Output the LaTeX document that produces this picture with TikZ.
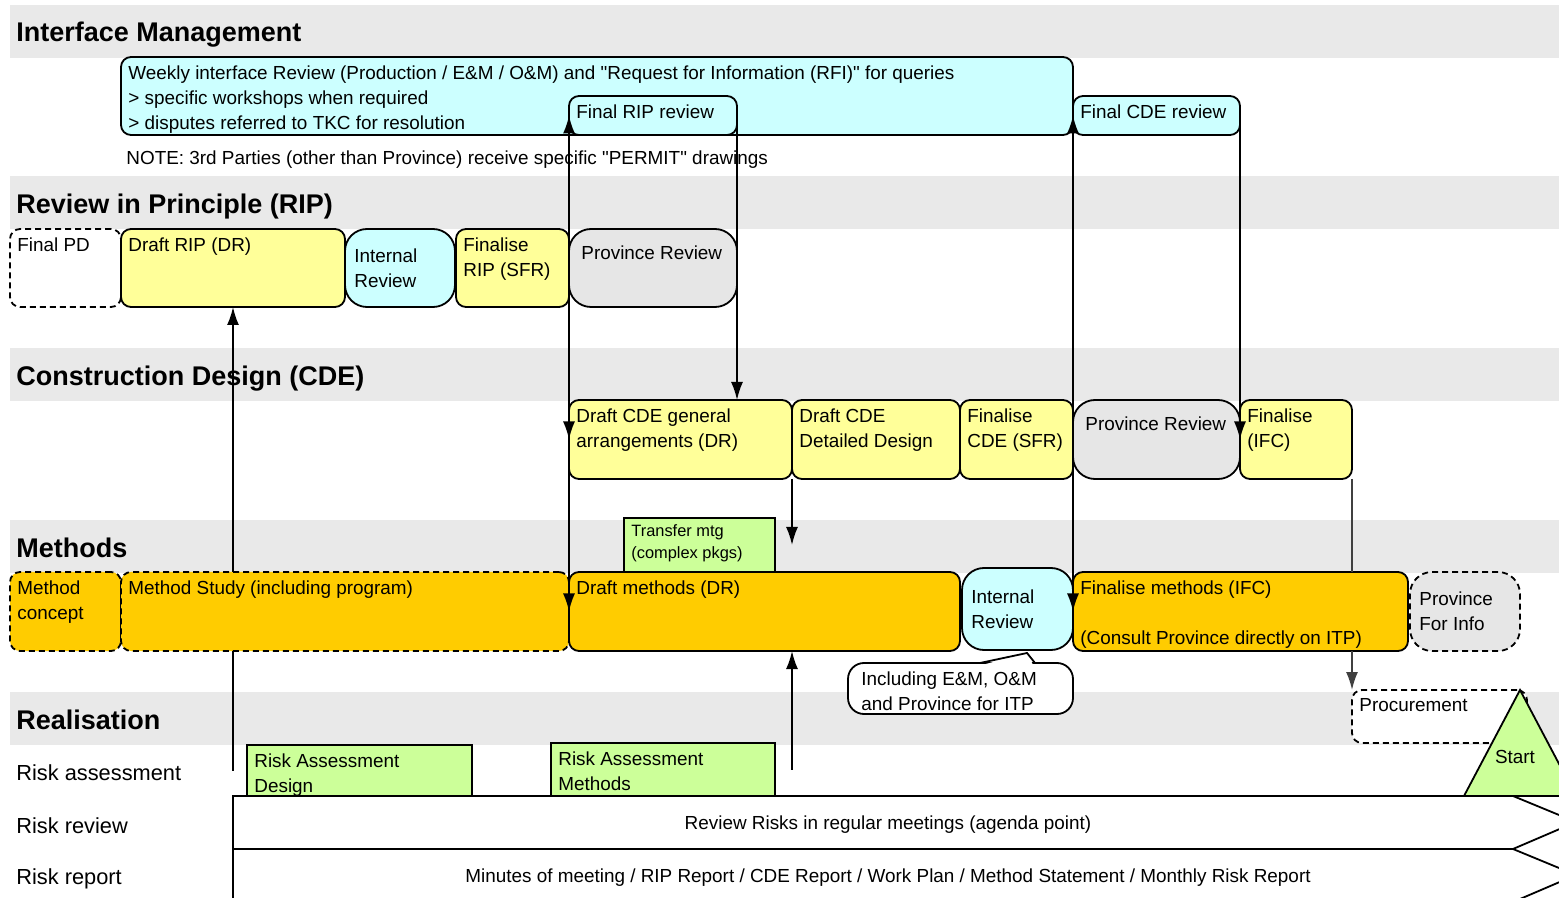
\documentclass[tikz,border=0pt]{standalone}
\usepackage{fontspec}
\setmainfont{Liberation Sans}
\usetikzlibrary{arrows.meta,positioning}

\definecolor{bandgray}{HTML}{E9E9E9}
\definecolor{revgray}{HTML}{E6E6E6}
\definecolor{lcyan}{HTML}{CCFFFF}
\definecolor{lyellow}{HTML}{FFFF99}
\definecolor{morange}{HTML}{FFCC00}
\definecolor{lgreen}{HTML}{CCFF99}
\definecolor{darkline}{HTML}{404040}

\newcommand{\bodysize}{\fontsize{9.45}{12.5}\selectfont}
\newcommand{\headsize}{\fontsize{13.5}{15}\bfseries\selectfont}
\newcommand{\smallsize}{\fontsize{8.2}{11}\selectfont}
\newcommand{\rowsize}{\fontsize{10.9}{13}\selectfont}

\tikzset{
    head/.style={anchor=base west, inner sep=0pt, font=\headsize},
    txt/.style={font=\bodysize, align=left, inner xsep=3.5pt, inner ysep=4pt},
    sz/.style 2 args={minimum width=#1*0.5pt, minimum height=#2*0.5pt},
    box/.style={draw, line width=0.9pt, rounded corners=5pt, anchor=north west,
        inner sep=0pt, outer sep=0pt},
    rev/.style={box, rounded corners=11pt},
    flat/.style={box, rounded corners=0pt, fill=lgreen},
    dashbox/.style={dash pattern=on 3pt off 2pt},
    tl/.style={label={[txt, anchor=north west]north west:#1}},
    pl/.style={label={[txt, anchor=north west, xshift=2.5pt, yshift=-4pt]north west:#1}},
    cl/.style={label={[txt, anchor=west, xshift=1pt]west:#1}},
    ln/.style={line width=0.9pt},
    arr/.style={line width=0.9pt, -{Latex[length=9pt, width=6pt]}}
}

\begin{document}
\begin{tikzpicture}[x=0.5pt, y=-0.5pt]
    \useasboundingbox (0,0) rectangle (1559,898);
    \clip (0,0) rectangle (1559,898);

    % lanes
    \foreach \y in {5,176,348,520,692}
        \fill[bandgray] (10,\y) rectangle (1559,\y+53);
    \node[head] (himan) at (16,42) {Interface Management};
    \node[head] (hrip) at (16,214) {Review in Principle (RIP)};
    \node[head] (hcde) at (16,386) {Construction Design (CDE)};
    \node[head] (hmeth) at (16,558) {Methods};
    \node[head] (hreal) at (16,729) {Realisation};

    % interface management
    \node[box, fill=lcyan, sz={952}{78}, tl={Weekly interface Review (Production / E\&M / O\&M) and \textquotedbl Request for Information (RFI)\textquotedbl{} for queries\\> specific workshops when required\\> disputes referred to TKC for resolution}] (weekly) at (121,57) {};
    \node[box, fill=lcyan, sz={168}{39}, tl={Final RIP review}] (frip) at (569,96) {};
    \node[box, fill=lcyan, sz={167}{39}, tl={Final CDE review}] (fcde) at (1073,96) {};
    \node[font=\bodysize, anchor=west, inner sep=0pt] (note) at (126,160)
        {NOTE: 3rd Parties (other than Province) receive specific \textquotedbl PERMIT\textquotedbl{} drawings};

    % RIP
    \node[box, dashbox, fill=white, sz={111}{78}, tl={Final PD}] (fpd) at (10,229) {};
    \node[box, fill=lyellow, sz={224}{78}, tl={Draft RIP (DR)}] (drip) at (121,229) {};
    \node[rev, fill=lcyan, sz={110}{78}, cl={Internal\\Review}] (rint) at (345,229) {};
    \node[box, fill=lyellow, sz={113}{78}, tl={Finalise\\RIP (SFR)}] (rsfr) at (456,229) {};
    \node[rev, fill=revgray, sz={168}{78}, pl={Province Review}] (rprov) at (569,229) {};

    % CDE
    \node[box, fill=lyellow, sz={223}{79}, tl={Draft CDE general\\arrangements (DR)}] (dcga) at (569,400) {};
    \node[box, fill=lyellow, sz={168}{79}, tl={Draft CDE\\Detailed Design}] (cdet) at (792,400) {};
    \node[box, fill=lyellow, sz={113}{79}, tl={Finalise\\CDE (SFR)}] (csfr) at (960,400) {};
    \node[rev, fill=revgray, sz={167}{79}, pl={Province Review}] (cprov) at (1073,400) {};
    \node[box, fill=lyellow, sz={112}{79}, tl={Finalise\\(IFC)}] (ifc) at (1240,400) {};

    % methods
    \node[flat, sz={151}{54}, label={[txt, font=\smallsize, anchor=north west, inner ysep=3pt]north west:Transfer mtg\\(complex pkgs)}] (tmtg) at (624,518) {};
    \node[box, dashbox, fill=morange, sz={111}{79}, tl={Method\\concept}] (mcon) at (10,572) {};
    \node[box, dashbox, fill=morange, sz={448}{79}, tl={Method Study (including program)}] (mstudy) at (121,572) {};
    \node[box, fill=morange, sz={391}{79}, tl={Draft methods (DR)}] (dmeth) at (569,572) {};
    \node[rev, fill=lcyan, sz={111}{82}, cl={Internal\\Review}] (mint) at (962,568) {};
    \node[box, fill=morange, sz={335}{79}, tl={Finalise methods (IFC)\\[12.5pt](Consult Province directly on ITP)}] (fmeth) at (1073,572) {};
    \node[rev, dashbox, fill=revgray, sz={110}{79}, cl={Province\\For Info}] (pinfo) at (1410,572) {};

    % callout
    \node[box, fill=white, rounded corners=8pt, sz={225}{51}, label={[txt, anchor=north west, xshift=3pt]north west:Including E\&M, O\&M\\and Province for ITP}] (callout) at (848,663) {};
    \fill[white] (982,665) -- (1027,653) -- (1033,665) -- cycle;
    \draw[ln] (980,663) -- (1027,653) -- (1035,663);

    % realisation
    \node[box, dashbox, fill=white, sz={175}{53}, tl={Procurement}] (proc) at (1352,690) {};
    \draw[ln, fill=white] (233,849) -- (1513,849) -- (1576,875) -- (1513,902) -- (233,902) -- cycle;
    \draw[ln, fill=white] (233,796) -- (1513,796) -- (1576,822) -- (1513,849) -- (233,849) -- cycle;
    \node[font=\bodysize] (rrev) at (888,825) {Review Risks in regular meetings (agenda point)};
    \node[font=\bodysize] (rrep) at (888,878)
        {Minutes of meeting / RIP Report / CDE Report / Work Plan / Method Statement / Monthly Risk Report};
    \node[flat, sz={225}{51}, tl={Risk Assessment\\Design}] (rad) at (247,745) {};
    \node[flat, sz={224}{53}, tl={Risk Assessment\\Methods}] (ram) at (551,743) {};
    \draw[ln, fill=lgreen] (1520,690) -- (1576,796) -- (1464,796) -- cycle;
    \node[font=\bodysize] (start) at (1515,757) {Start};
    \node[font=\rowsize, anchor=west, inner sep=0pt] (lass) at (16,773) {Risk assessment};
    \node[font=\rowsize, anchor=west, inner sep=0pt] (lrev) at (16,826) {Risk review};
    \node[font=\rowsize, anchor=west, inner sep=0pt] (lrep) at (16,879) {Risk report};

    % connectors
    \draw[ln] (rad.west -| drip.south) -- (drip.south |- mstudy.south);
    \draw[arr] (drip.south |- mstudy.north) -- (drip.south);
    \draw[arr] (dmeth.west) -- (frip.west);
    \draw[arr] (frip.west) -- (dcga.west);
    \draw[arr] (dcga.west) -- (dmeth.west);
    \draw[arr] (frip.east) -- (frip.east |- dcga.north);
    \draw[arr] (fmeth.west) -- (fcde.west);
    \draw[arr] (fcde.west) -- (fmeth.west);
    \draw[arr] (fcde.east) -- (ifc.west);
    \draw[arr] (dcga.south east) -- (dcga.south east |- tmtg.east);
    \draw[arr] (ram.east -| dcga.south east) -- (dcga.south east |- dmeth.south);
    \draw[ln, darkline] (ifc.south east) -- (ifc.south east |- fmeth.north);
    \draw[arr, darkline] (ifc.south east |- fmeth.south) -- (proc.north west);
\end{tikzpicture}
\end{document}
